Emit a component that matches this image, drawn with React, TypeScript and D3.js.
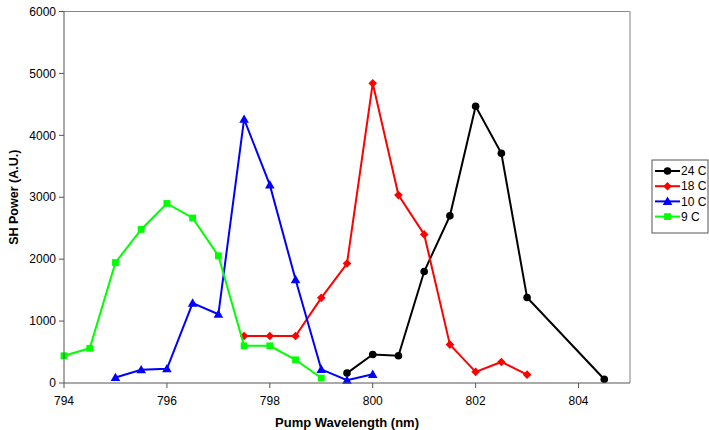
import React from "react";
import * as d3 from "d3";

const xTicks = [794, 796, 798, 800, 802, 804];
const yTicks = [0, 1000, 2000, 3000, 4000, 5000, 6000];

const wl24 = [799.5, 800, 800.5, 801, 801.5, 802, 802.5, 803, 804.5];
const p24 = [160, 460, 440, 1800, 2700, 4470, 3710, 1380, 60];

const wl18 = [797.5, 798, 798.5, 799, 799.5, 800, 800.5, 801, 801.5, 802, 802.5, 803];
const p18 = [760, 760, 760, 1375, 1930, 4840, 3035, 2400, 620, 180, 340, 135];

const wl10 = [795, 795.5, 796, 796.5, 797, 797.5, 798, 798.5, 799, 799.5, 800];
const p10 = [90, 215, 230, 1290, 1110, 4260, 3200, 1670, 220, 45, 140];

const wl9 = [794, 794.5, 795, 795.5, 796, 796.5, 797, 797.5, 798, 798.5, 799];
const p9 = [440, 560, 1945, 2480, 2900, 2665, 2055, 600, 600, 375, 80];

const seriesNames = ["24 C", "18 C", "10 C", "9 C"];
const seriesColors = ["#000000", "#ff0000", "#0000ff", "#00ff00"];
const seriesShapes = ["circle", "diamond", "triangle", "square"];
const seriesX = [wl24, wl18, wl10, wl9];
const seriesY = [p24, p18, p10, p9];

const left = 64, right = 630, top = 11.5, bottom = 383;
const font = "'Liberation Sans', Arial, sans-serif";

function Marker({ shape, x, y, color }: { shape: string; x: number; y: number; color: string }) {
  if (shape === "circle") return <circle cx={x} cy={y} r={3.8} fill={color} />;
  if (shape === "diamond") {
    const s = 4.3;
    return <path d={`M${x},${y - s}L${x + s},${y}L${x},${y + s}L${x - s},${y}Z`} fill={color} />;
  }
  if (shape === "triangle") {
    const s = 4.8;
    return <path d={`M${x},${y - s}L${x + s},${y + s * 0.75}L${x - s},${y + s * 0.75}Z`} fill={color} />;
  }
  const s = 3.4;
  return <rect x={x - s} y={y - s} width={2 * s} height={2 * s} fill={color} />;
}

export default function App() {
  const x = d3.scaleLinear().domain([794, 805]).range([left, right]);
  const y = d3.scaleLinear().domain([0, 6000]).range([bottom, top]);
  const line = d3.line<[number, number]>().x((d) => x(d[0])).y((d) => y(d[1]));

  return (
    <svg width={709} height={430} style={{ position: "absolute", left: 0, top: 0 }}>
      <rect x={0} y={0} width={709} height={430} fill="#fff" />
      <line x1={left} y1={top} x2={right} y2={top} stroke="#888" strokeWidth={1} />
      <line x1={right} y1={top} x2={right} y2={bottom} stroke="#aaa" strokeWidth={1.5} />
      {seriesNames.map((n, i) => {
        const pts: [number, number][] = seriesX[i].map((v, j) => [v, seriesY[i][j]]);
        return (
          <g key={n}>
            <path d={line(pts) || ""} fill="none" stroke={seriesColors[i]} strokeWidth={2} />
            {pts.map((p, j) => (
              <Marker key={j} shape={seriesShapes[i]} x={x(p[0])} y={y(p[1])} color={seriesColors[i]} />
            ))}
          </g>
        );
      })}
      <line x1={left} y1={top} x2={left} y2={bottom} stroke="#555" strokeWidth={1} />
      <line x1={left} y1={bottom} x2={right} y2={bottom} stroke="#555" strokeWidth={1} />
      {yTicks.map((t) => (
        <g key={t}>
          <line x1={left - 5} x2={left} y1={y(t)} y2={y(t)} stroke="#555" />
          <text x={left - 8} y={y(t) + 4.2} textAnchor="end" fontFamily={font} fontSize={12} fill="#000">
            {t}
          </text>
        </g>
      ))}
      {xTicks.map((t) => (
        <g key={t}>
          <line x1={x(t)} x2={x(t)} y1={bottom} y2={bottom + 5} stroke="#555" />
          <text x={x(t)} y={405} textAnchor="middle" fontFamily={font} fontSize={12} fill="#000">
            {t}
          </text>
        </g>
      ))}
      <text x={(left + right) / 2} y={427} textAnchor="middle" fontFamily={font} fontSize={13} fontWeight="bold">
        Pump Wavelength (nm)
      </text>
      <text
        transform={`translate(18,${(top + bottom) / 2}) rotate(-90)`}
        textAnchor="middle"
        fontFamily={font}
        fontSize={12.5}
        fontWeight="bold"
      >
        SH Power (A.U.)
      </text>
      <rect x={652} y={160} width={56} height={73} fill="#fff" stroke="#555" strokeWidth={1} />
      {seriesNames.map((n, i) => {
        const ly = 171 + i * 15.2;
        return (
          <g key={n}>
            <line x1={655} x2={680} y1={ly} y2={ly} stroke={seriesColors[i]} strokeWidth={2} />
            <Marker shape={seriesShapes[i]} x={667.5} y={ly} color={seriesColors[i]} />
            <text x={681} y={ly + 4.2} fontFamily={font} fontSize={12}>
              {n}
            </text>
          </g>
        );
      })}
    </svg>
  );
}
